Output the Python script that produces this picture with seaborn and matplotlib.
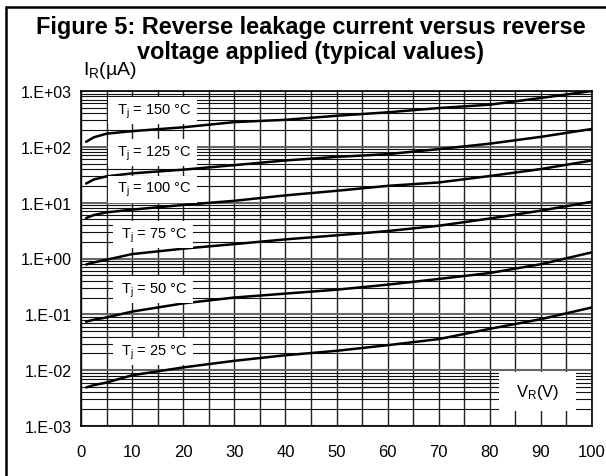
import numpy as np
import pandas as pd
import seaborn as sns
import matplotlib
matplotlib.use("Agg")
import matplotlib.pyplot as plt
from matplotlib.lines import Line2D
from matplotlib.patches import Rectangle
from matplotlib.ticker import FixedLocator, FuncFormatter, NullFormatter

# ---- data ----
voltage = [1, 2.5, 5, 10, 20, 30, 40, 50, 60, 70, 80, 90, 100]
ir_150 = [123, 148, 172, 191, 224, 277, 305, 360, 415, 495, 569, 750, 1000]
ir_125 = [22, 26, 29.6, 33.5, 39, 47, 57, 66, 74, 91, 114, 151, 209]
ir_100 = [5.3, 6.0, 6.7, 7.5, 9.1, 10.8, 13.5, 16.3, 20, 23, 30, 40, 57]
ir_75 = [0.78, 0.85, 0.95, 1.2, 1.5, 1.81, 2.2, 2.6, 3.1, 3.86, 5.2, 7.2, 10.4]
ir_50 = [0.074, 0.08, 0.088, 0.112, 0.157, 0.2, 0.235, 0.276, 0.34, 0.43, 0.55, 0.79, 1.29]
ir_25 = [0.0049, 0.0054, 0.006, 0.0081, 0.0112, 0.0147, 0.0185, 0.0222, 0.028, 0.036, 0.055, 0.082, 0.133]
temps = ["150", "125", "100", "75", "50", "25"]
label_y = [447, 79, 17.5, 2.68, 0.277, 0.0215]
label_x = 14
x_ticks = [0, 10, 20, 30, 40, 50, 60, 70, 80, 90, 100]

series = [ir_150, ir_125, ir_100, ir_75, ir_50, ir_25]
df = pd.concat(
    [pd.DataFrame({"V": voltage, "IR": s, "Tj": t}) for s, t in zip(series, temps)],
    ignore_index=True,
)

sns.set_theme(style="white")
plt.rcParams["font.family"] = ["Liberation Sans", "DejaVu Sans"]
plt.rcParams["mathtext.fontset"] = "custom"
plt.rcParams["mathtext.rm"] = "Liberation Sans"
plt.rcParams["mathtext.it"] = "Liberation Sans:italic"
plt.rcParams["text.color"] = "black"
plt.rcParams["xtick.color"] = "black"
plt.rcParams["ytick.color"] = "black"

fig = plt.figure(figsize=(6.06, 4.77), dpi=100)
ax = fig.add_axes([81 / 606, 1 - 427 / 477, 511 / 606, 335 / 477])

sns.lineplot(data=df, x="V", y="IR", units="Tj", estimator=None,
             color="black", lw=1.8, ax=ax, legend=False, zorder=5)

ax.set_yscale("log")
ax.set_ylim(1e-3, 1e3)
ax.set_xlim(0, 100)
ax.xaxis.set_major_locator(FixedLocator(x_ticks))
ax.xaxis.set_minor_locator(FixedLocator([v + 5 for v in x_ticks[:-1]]))
dec = [10.0 ** k for k in range(-3, 4)]
ax.yaxis.set_major_locator(FixedLocator(dec))
ax.yaxis.set_minor_locator(FixedLocator([m * d for d in dec[:-1] for m in range(2, 10)]))
ax.yaxis.set_major_formatter(FuncFormatter(lambda v, p: "1.E%+03d" % int(round(np.log10(v)))))
ax.yaxis.set_minor_formatter(NullFormatter())

ax.grid(which="major", axis="x", color="#222222", lw=1.0)
ax.grid(which="minor", axis="x", color="#222222", lw=1.0)
ax.grid(which="major", axis="y", color="#666666", lw=1.5)
ax.grid(which="minor", axis="y", color="#111111", lw=0.8)
ax.set_axisbelow(True)
ax.tick_params(which="both", length=0)
ax.tick_params(axis="y", labelsize=11.5, pad=6.5, colors="black")
ax.tick_params(axis="x", labelsize=12, pad=13, colors="black")
ax.set_xlabel("")
ax.set_ylabel("")
for s in ax.spines.values():
    s.set_color("black")
    s.set_linewidth(1.2)
    s.set_visible(True)

for t, y in zip(temps, label_y):
    ax.text(label_x, y, " T$_\\mathrm{j}$ = %s °C " % t, ha="center", va="center",
            fontsize=10.5, color="black", zorder=6,
            bbox=dict(boxstyle="square,pad=0.3", fc="white", ec="none"))

ax.add_patch(Rectangle((0.818, 0.0448), 0.151, 0.116, transform=ax.transAxes,
                       fc="white", ec="none", zorder=6))
ax.text(0.8935, 0.1027, "V$_\\mathrm{R}$(V)", transform=ax.transAxes,
        ha="center", va="center", fontsize=12, zorder=7)

fig.text(83 / 606, 1 - 75 / 477, "I$_\\mathrm{R}$(µA)", ha="left", va="baseline", fontsize=14)

fig.text(0.513, 1 - 34 / 477, "Figure 5: Reverse leakage current versus reverse",
         ha="center", va="baseline", fontsize=16.9, fontweight="bold")
fig.text(0.513, 1 - 59 / 477, "voltage applied (typical values)",
         ha="center", va="baseline", fontsize=16.9, fontweight="bold")

fig.add_artist(Line2D([6 / 606, 1.0], [1 - 8 / 477] * 2, color="black", lw=1.8))
fig.add_artist(Line2D([6 / 606] * 2, [0.0, 1 - 8 / 477], color="black", lw=1.8))

fig.savefig("out.png", dpi=100, facecolor="white")
